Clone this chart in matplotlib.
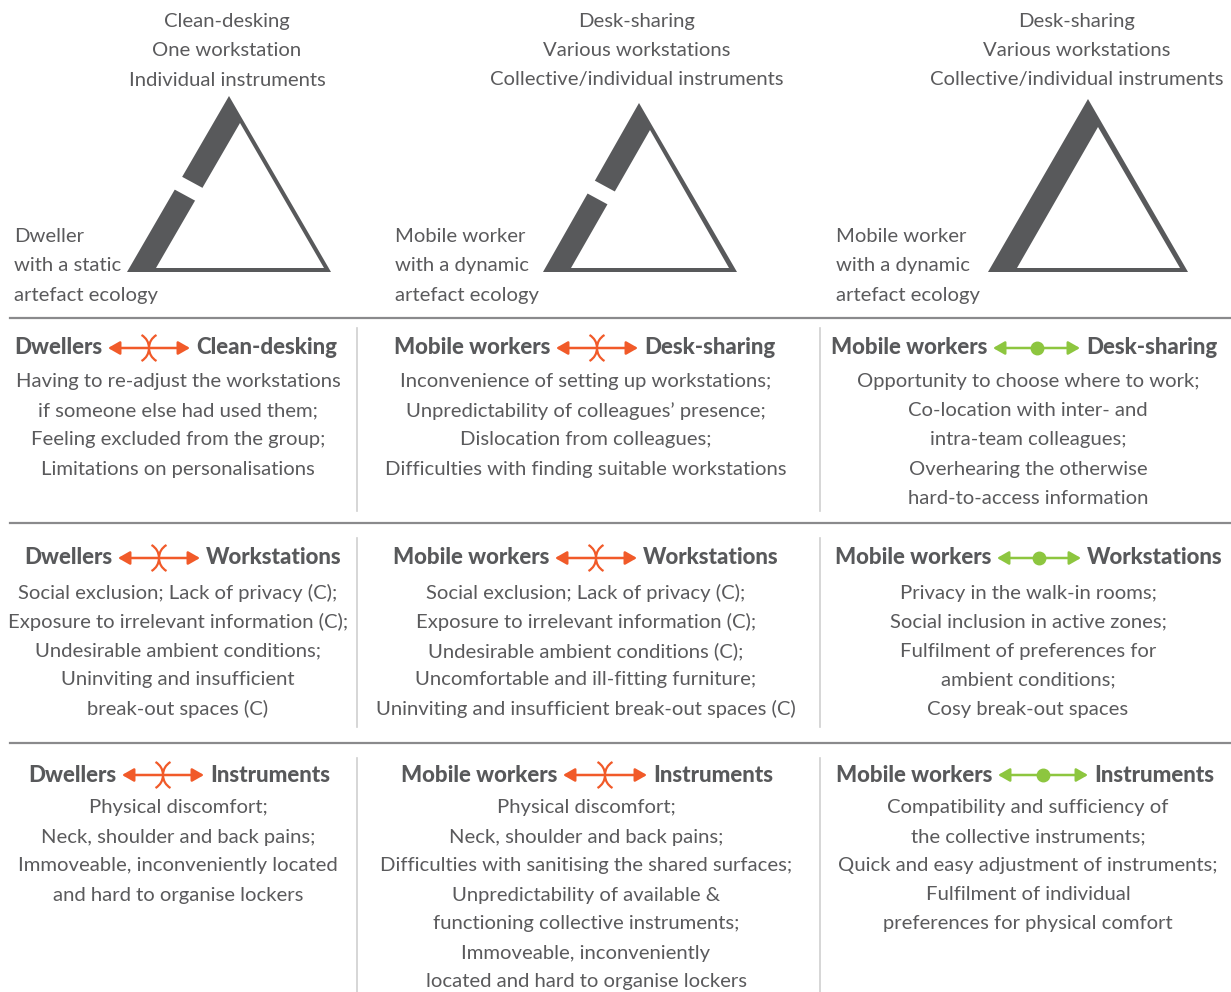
import matplotlib.pyplot as plt
from matplotlib.patches import Polygon, Arc, FancyArrowPatch

# text of the diagram
top_labels = [
    ["Clean-desking", "One workstation", "Individual instruments"],
    ["Desk-sharing", "Various workstations", "Collective/individual instruments"],
    ["Desk-sharing", "Various workstations", "Collective/individual instruments"],
]
side_labels = [
    ["Dweller", "with a static", "artefact ecology"],
    ["Mobile worker", "with a dynamic", "artefact ecology"],
    ["Mobile worker", "with a dynamic", "artefact ecology"],
]
# heading per cell: left word, right word, kind of link ("x" = conflict, "o" = fit)
right_words = [
    ["Clean-desking", "Desk-sharing", "Desk-sharing"],
    ["Workstations", "Workstations", "Workstations"],
    ["Instruments", "Instruments", "Instruments"],
]
left_words = ["Dwellers", "Mobile workers", "Mobile workers"]
links = ["x", "x", "o"]

body = [
    [
        ["Having to re-adjust the workstations", "if someone else had used them;",
         "Feeling excluded from the group;", "Limitations on personalisations"],
        ["Inconvenience of setting up workstations;", "Unpredictability of colleagues\u2019 presence;",
         "Dislocation from colleagues;", "Difficulties with finding suitable workstations"],
        ["Opportunity to choose where to work;", "Co-location with inter- and",
         "intra-team colleagues;", "Overhearing the otherwise", "hard-to-access information"],
    ],
    [
        ["Social exclusion; Lack of privacy (C);", "Exposure to irrelevant information (C);",
         "Undesirable ambient conditions;", "Uninviting and insufficient", "break-out spaces (C)"],
        ["Social exclusion; Lack of privacy (C);", "Exposure to irrelevant information (C);",
         "Undesirable ambient conditions (C);", "Uncomfortable and ill-fitting furniture;",
         "Uninviting and insufficient break-out spaces (C)"],
        ["Privacy in the walk-in rooms;", "Social inclusion in active zones;",
         "Fulfilment of preferences for", "ambient conditions;", "Cosy break-out spaces"],
    ],
    [
        ["Physical discomfort;", "Neck, shoulder and back pains;",
         "Immoveable, inconveniently located", "and hard to organise lockers"],
        ["Physical discomfort;", "Neck, shoulder and back pains;",
         "Difficulties with sanitising the shared surfaces;", "Unpredictability of available &",
         "functioning collective instruments;", "Immoveable, inconveniently",
         "located and hard to organise lockers"],
        ["Compatibility and sufficiency of", "the collective instruments;",
         "Quick and easy adjustment of instruments;", "Fulfilment of individual",
         "preferences for physical comfort"],
    ],
]

# layout (pixels)
col_centers = [178, 586, 1028]
top_centers = [227, 637, 1077]
side_x = [14, 395, 836]
tri_apex = [(229, 96), (639, 103), (1088, 99)]
tri_base = [(127, 331), (543, 737), (988, 1188)]
tri_inner = [((240, 123), 156, 324), ((650, 130), 571, 729), ((1098, 127), 1017, 1180)]
gaps = [(183, 181), (596, 185), None]
arrow_span = [
    [(108, 190), (556, 638), (993, 1080)],
    [(118, 200), (555, 637), (997, 1081)],
    [(122, 204), (563, 647), (998, 1088)],
]
head_y = [348, 558, 775]
body_y0 = [382, 593, 808]
hlines = [318, 523, 743]
vspans = [(328, 511), (538, 727), (758, 992)]
vx = [357, 820]

dark = "#58595b"
txt = "#5a5a5c"
orange = "#f15a29"
green = "#8dc63f"

fig = plt.figure(figsize=(12.31, 9.92), dpi=100)
ax = fig.add_axes([0, 0, 1, 1])
ax.set_xlim(0, 1231)
ax.set_ylim(992, 0)
ax.axis("off")

light = dict(family="Lato", weight="normal", color=txt, fontsize=14.6)
bold = dict(family="Lato", weight="black", color=dark, fontsize=16)

# triangles
for i in range(3):
    ax_, ay_ = tri_apex[i]
    bl, br = tri_base[i]
    ax.add_patch(Polygon([(ax_, ay_), (bl, 272), (br, 272)], closed=True, fc=dark, ec="none"))
    (ix, iy), il, ir = tri_inner[i]
    ax.add_patch(Polygon([(ix, iy), (il, 268), (ir, 268)], closed=True, fc="white", ec="none"))
    if gaps[i] is not None:
        gx, gy = gaps[i]
        # white cut across the thick left side
        ax.add_patch(Polygon([(gx - 30, gy - 20), (gx + 40, gy + 18), (gx + 33, gy + 31), (gx - 37, gy - 7)],
                             closed=True, fc="white", ec="none"))
    for k, s in enumerate(top_labels[i]):
        ax.text(top_centers[i], 22 + 29 * k, s, ha="center", va="center", **light)
    for k, s in enumerate(side_labels[i]):
        ax.text(side_x[i], 236 + 29.5 * k, s, ha="left", va="center", **light)

# separators
for y in hlines:
    ax.plot([10, 1231], [y, y], color="#8a8a8c", lw=1.6)
for y0, y1 in vspans:
    for x in vx:
        ax.plot([x, x], [y0, y1], color="#cfcfcf", lw=1.2)

# headings with links and body text
for r in range(3):
    for c in range(3):
        x0, x1 = arrow_span[r][c]
        y = head_y[r]
        ax.text(x0 - 6, y, left_words[c], ha="right", va="center", **bold)
        ax.text(x1 + 6, y, right_words[r][c], ha="left", va="center", **bold)
        col = orange if links[c] == "x" else green
        ax.add_patch(FancyArrowPatch((x0, y), (x1, y), arrowstyle="<|-|>,head_length=7,head_width=4",
                                     color=col, lw=1.8, mutation_scale=1, shrinkA=0, shrinkB=0))
        xm = (x0 + x1) / 2
        if links[c] == "x":
            ax.add_patch(Arc((xm - 15, y), 30, 30, theta1=-60, theta2=60, color=col, lw=1.6))
            ax.add_patch(Arc((xm + 15, y), 30, 30, theta1=120, theta2=240, color=col, lw=1.6))
        else:
            ax.plot([xm], [y], "o", color=col, ms=9)
        for k, s in enumerate(body[r][c]):
            ax.text(col_centers[c], body_y0[r] + 29 * k, s, ha="center", va="center", **light)

fig.savefig("out.png", dpi=100)
